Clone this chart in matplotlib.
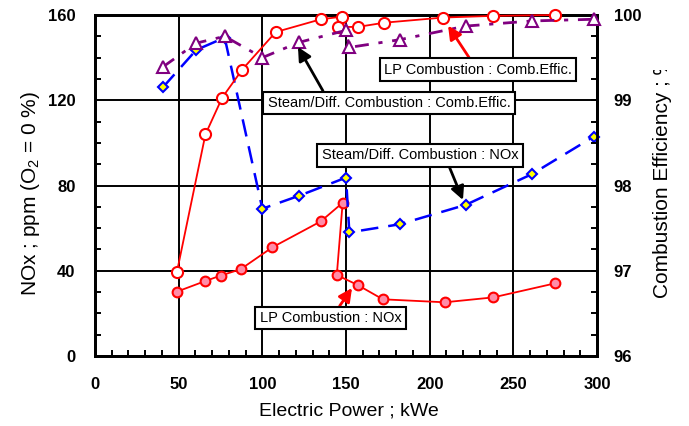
import matplotlib
matplotlib.use("Agg")
import matplotlib.pyplot as plt
from matplotlib.ticker import MultipleLocator
from matplotlib.transforms import Bbox, TransformedBbox

plt.rcParams['font.family'] = ['Liberation Sans', 'DejaVu Sans']
plt.rcParams['mathtext.fontset'] = 'custom'
plt.rcParams['mathtext.rm'] = 'Liberation Sans'
plt.rcParams['mathtext.it'] = 'Liberation Sans:italic'

# LP combustion: NOx (ppm) and combustion efficiency (%)
lp_power = [49, 66, 75, 87, 106, 135, 148, 144.5, 157, 172, 209, 238, 275]
lp_nox = [30.2, 35.2, 37.7, 40.7, 51.0, 63.2, 71.9, 38.0, 33.3, 26.6, 25.2, 27.5, 34.1]
lp_eff_power = [49, 66, 76, 88, 108, 135, 147.5, 145, 157, 173, 208, 238, 275]
lp_eff = [96.99, 98.60, 99.03, 99.36, 99.80, 99.95, 99.98, 99.86, 99.86, 99.91, 99.97, 99.99, 100.0]

# Steam / diffusion combustion
sd_power = [40.5, 60.5, 77.5, 100, 122, 150, 152, 182, 221.5, 261, 298]
sd_nox = [126.0, 143.6, 149.4, 69.1, 75.2, 83.7, 58.0, 61.8, 70.9, 85.3, 102.9]
sd_eff = [99.39, 99.67, 99.75, 99.50, 99.68, 99.82, 99.62, 99.71, 99.87, 99.93, 99.95]

x_ticks = [0, 50, 100, 150, 200, 250, 300]
nox_ticks = [0, 40, 80, 120, 160]
eff_ticks = [96, 97, 98, 99, 100]

W, H = 689, 426
fig = plt.figure(figsize=(W / 100, H / 100), dpi=100)
ax = fig.add_axes([95 / W, 70 / H, 502 / W, 341 / H])
ax2 = ax.twinx()

ax.set_xlim(0, 300)
ax.set_ylim(0, 160)
ax2.set_ylim(96, 100)

# grid and frame
ax.grid(True, which='major', color='black', linewidth=1.4, zorder=0)
ax.set_axisbelow(True)
for a in (ax, ax2):
    for s in a.spines.values():
        s.set_linewidth(2.0)

ax.set_xticks(x_ticks, [str(v) for v in x_ticks], fontweight='bold', fontsize=12)
ax.set_yticks(nox_ticks, [str(v) for v in nox_ticks], fontweight='bold', fontsize=12)
ax2.set_yticks(eff_ticks, [str(v) for v in eff_ticks], fontweight='bold', fontsize=12)
ax.xaxis.set_minor_locator(MultipleLocator(10))
ax.yaxis.set_minor_locator(MultipleLocator(10))
ax2.yaxis.set_minor_locator(MultipleLocator(0.25))
ax.tick_params(axis='x', which='major', direction='in', length=0, pad=15)
ax.tick_params(axis='y', which='major', direction='in', length=0, pad=14)
ax.tick_params(which='minor', direction='in', length=4, width=1.4)
ax.tick_params(axis='y', which='both', right=False)
ax2.tick_params(axis='y', which='major', direction='in', length=4, width=1.4, pad=12)
ax2.tick_params(axis='y', which='minor', direction='in', length=4, width=1.4)

# data series
ax.plot(lp_power, lp_nox, color='red', lw=1.3, marker='o', ms=7,
        mfc='#FF8CA8', mec='red', mew=1.5, zorder=3, clip_on=False)
ax.plot(sd_power, sd_nox, color='blue', lw=1.8, ls=(0, (7, 4)), marker='D', ms=5.5,
        mfc='yellow', mec='blue', mew=1.5, zorder=3, clip_on=False)
ax2.plot(lp_eff_power, lp_eff, color='red', lw=1.3, marker='o', ms=8,
         mfc='white', mec='red', mew=1.5, zorder=3, clip_on=False)
ax2.plot(sd_power, sd_eff, color='purple', lw=2.0, ls=(0, (5, 3.5, 1.5, 3.5)), marker='^', ms=8,
         mfc='white', mec='purple', mew=1.5, zorder=3, clip_on=False)

# callouts
box = dict(boxstyle='square,pad=0.3', fc='white', ec='black', lw=1.5)
callouts = [
    ("LP Combustion : Comb.Effic.", (211, 155), (228.9, 134.4), 'red', (0.47, 1)),
    ("Steam/Diff. Combustion : Comb.Effic.", (121.3, 145.0), (175.7, 118.7), 'black', (0.24, 1)),
    ("Steam/Diff. Combustion : NOx", (219.9, 73.2), (194.2, 94.1), 'black', (0.64, 0)),
    ("LP Combustion : NOx", (153.6, 31.9), (140.7, 17.8), 'red', (0.54, 1)),
]
for text, xy, xytext, col, rel in callouts:
    ax2.annotate(text, xy=xy, xytext=xytext, xycoords=ax.transData, textcoords=ax.transData,
                 ha='center', va='center', fontsize=10.5, bbox=box, zorder=6,
                 arrowprops=dict(arrowstyle='-|>,head_length=0.5,head_width=0.25', color=col,
                                 lw=2.0, shrinkA=0, shrinkB=0, relpos=rel, mutation_scale=16))

# axis titles
fig.text(349 / W, 11 / H, "Electric Power ; kWe", ha='center', va='baseline', fontsize=14)
fig.text(31 / W, (H - 193) / H, "NOx ; ppm (O$_2$ = 0 %)", rotation=90,
         ha='center', va='center', fontsize=15)
t = fig.text(662 / W, (H - 298) / H, "Combustion Efficiency ; %", rotation=90,
             ha='center', va='bottom', fontsize=15)
t.set_clip_box(TransformedBbox(Bbox([[0, 0], [1, (H - 70) / H]]), fig.transFigure))
t.set_clip_on(True)

fig.savefig("out.png", dpi=100)
